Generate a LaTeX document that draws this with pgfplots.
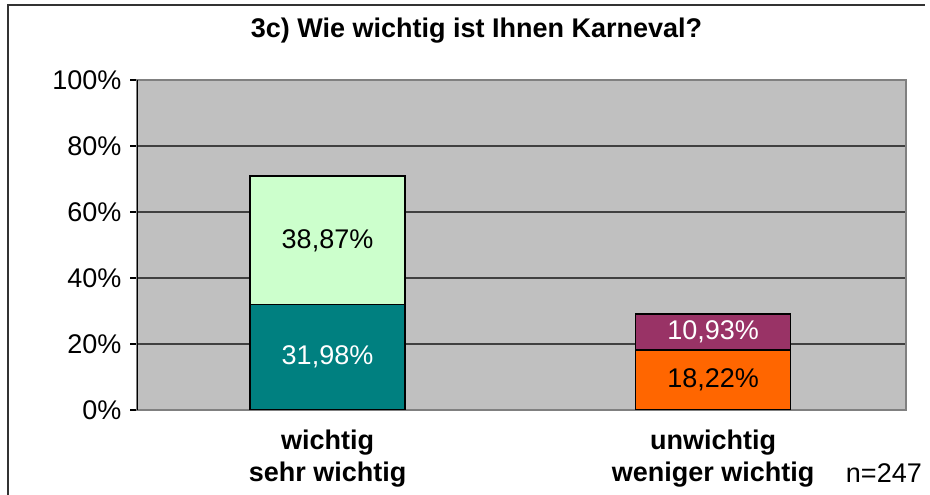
\documentclass[border=0pt]{standalone}
\usepackage{pgfplots}
\usepackage{pgfplotstable}
\pgfplotsset{compat=1.18}
\usepackage{fontspec}
\setmainfont{Liberation Sans}

\definecolor{plotbg}{HTML}{C0C0C0}
\definecolor{barteal}{HTML}{008080}
\definecolor{barlight}{HTML}{CCFFCC}
\definecolor{barorange}{HTML}{FF6600}
\definecolor{barpurple}{HTML}{993366}

% one table per stacked layer; x = 0 (wichtig), 1 (unwichtig)
\pgfplotstableread{
x v
0 31.98
1 0
}\sehrwichtig
\pgfplotstableread{
x v
0 0
1 18.22
}\wenigerwichtig
\pgfplotstableread{
x v
0 38.87
1 0
}\wichtig
\pgfplotstableread{
x v
0 0
1 10.93
}\unwichtig

\newcommand{\lbl}{\fontsize{27}{32}\selectfont}
\newcommand{\catlbl}{\fontsize{27}{32}\selectfont}

\begin{document}
\begin{tikzpicture}[x=1pt,y=1pt]
\useasboundingbox (0,0) rectangle (930,495);
\draw[line width=1.5pt, black!80] (8,-5) -- (8,490) -- (925,490);

\begin{axis}[
  at={(137pt,85pt)}, anchor=south west,
  scale only axis, width=769pt, height=330pt,
  xmin=-0.494, xmax=1.5,
  ymin=0, ymax=100,
  ybar stacked, bar width=155pt,
  /pgf/number format/assume math mode=true,
  axis background/.style={fill=plotbg},
  axis line style={draw=black!50, line width=1.5pt},
  ytick={0,20,...,100},
  yticklabel={\pgfmathprintnumber{\tick}\%},
  ytick pos=left, tick align=outside,
  major tick length=7pt,
  y tick style={black, line width=1.2pt},
  yticklabel style={font=\lbl, xshift=-5pt},
  ymajorgrids, major grid style={black!75, line width=1.2pt},
  xtick={0,1},
  xticklabels={{wichtig\\sehr wichtig},{unwichtig\\weniger wichtig}},
  x tick style={draw=none},
  xticklabel style={font=\bfseries\catlbl, align=center, yshift=-9pt},
  visualization depends on={\thisrow{v} \as \rawv},
  % segment values, centred in their segments; empty layers print nothing
  nodes near coords={\ifdim\rawv pt>0pt\pgfmathprintnumber[fixed,fixed zerofill,precision=2,use comma]{\rawv}\%\fi},
  every node near coord/.append style={anchor=center, font=\lbl},
]
\addplot[fill=barteal, draw=black, line width=1.5pt, every node near coord/.append style={text=white}] table[x=x,y=v] {\sehrwichtig};
\addplot[fill=barorange, draw=black, line width=1.5pt, every node near coord/.append style={text=black}] table[x=x,y=v] {\wenigerwichtig};
\addplot[fill=barlight, draw=black, line width=1.5pt, every node near coord/.append style={text=black}] table[x=x,y=v] {\wichtig};
\addplot[fill=barpurple, draw=black, line width=1.5pt, every node near coord/.append style={text=white}] table[x=x,y=v] {\unwichtig};
\draw[black, line width=1.5pt] (rel axis cs:0,0) -- (rel axis cs:0,1);
\end{axis}

\node[font=\bfseries\lbl, anchor=base] at (476.5,457) {3c) Wie wichtig ist Ihnen Karneval?};
\node[font=\lbl, anchor=base east, inner sep=0pt] at (922,12) {n=247};
\end{tikzpicture}
\end{document}
